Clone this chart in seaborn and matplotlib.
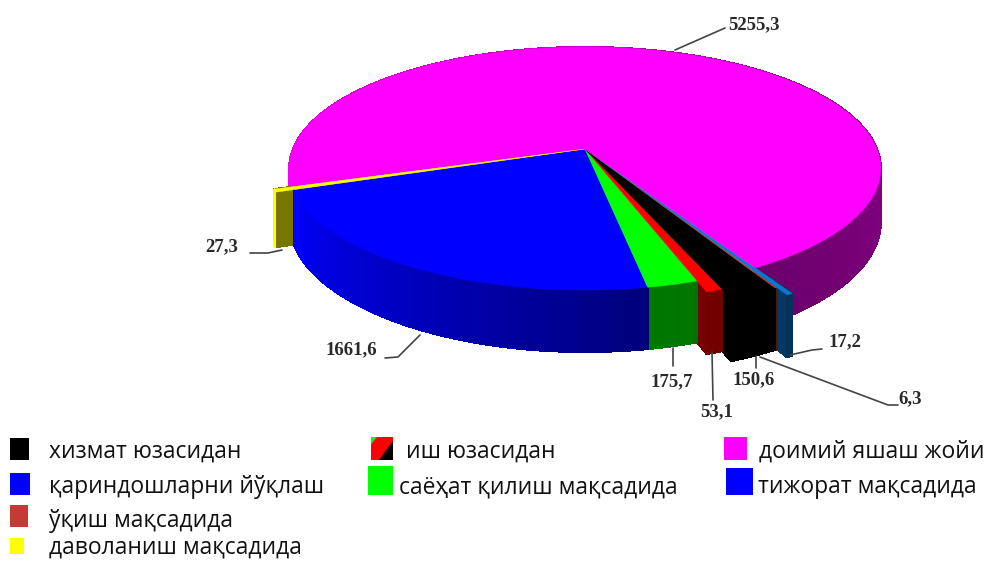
"""3D style pie chart of arrivals by purpose of visit, with perspective top face."""

import numpy as np
import matplotlib.pyplot as plt
import seaborn as sns
from matplotlib.patches import Polygon, Rectangle

# slices in counter-clockwise order, starting at the left edge of the big blue one
slice_values = [1661.6, 175.7, 53.1, 150.6, 6.3, 17.2, 5255.3, 27.3]
slice_labels = ["1661,6", "175,7", "53,1", "150,6", "6,3", "17,2", "5255,3", "27,3"]
slice_colors = ["#0000FF", "#00FF00", "#FF0000", "#000000",
                "#C0392B", "#0A78D2", "#FF00FF", "#FFFF00"]

legend_names = ["хизмат юзасидан", "иш юзасидан", "доимий яшаш жойи",
                "қариндошларни йўқлаш", "саёҳат қилиш мақсадида", "тижорат мақсадида",
                "ўқиш мақсадида", "даволаниш мақсадида"]
legend_colors = ["#000000", "#FF0000", "#FF00FF",
                 "#0000FF", "#00FF00", "#0000FF",
                 "#C43A35", "#FFFF00"]

# layout (pixels of the 989x562 picture)
slice_radius = [1.0, 1.0, 1.07, 1.13, 1.13, 1.18, 1.0, 1.06]
START_ANGLE = 199.0
APEX_X, APEX_Y = 585, 149
SCALE_X, SCALE_Y = 292, 118.4
PERSPECTIVE = 0.1605
THICKNESS = 52

label_pos = [(351, 350), (672, 382), (717, 412), (754, 380), (910, 399), (845, 342), (754, 25), (222, 247)]
leader_xs = [[385, 398, 420], [673, 673], [712, 713], [756, 756], [760, 888, 898], [790, 812, 822], [675, 725], [250, 268, 282]]
leader_ys = [[358, 357, 335], [348, 366], [352, 400], [356, 368], [357, 405, 405], [355, 350, 349], [50, 28], [253, 253, 250]]

swatches = [(10, 438, 19, 22), (371, 437, 22, 23), (724, 437, 23, 23),
            (10, 473, 20, 22), (368, 466, 25, 29), (726, 468, 27, 27),
            (10, 505, 18, 22), (10, 538, 14, 16)]
legend_text_pos = [(49, 452), (406, 452), (759, 452),
                   (49, 487), (399, 487), (758, 487),
                   (49, 521), (49, 548)]


def project(theta, r=1.0, drop=0.0):
    """Map a point of the unit disc (degrees, radius) to picture pixels."""
    t = np.radians(theta)
    px, py = r * np.cos(t), r * np.sin(t)
    w = 1 + PERSPECTIVE * py
    return APEX_X + SCALE_X * px / w, APEX_Y - SCALE_Y * py / w + drop * THICKNESS / w


def shade(color, theta):
    """Darken the side of the pie depending on where it faces."""
    f = np.interp(theta % 360, [0, 180, 199, 280, 300, 360], [0.52, 0.9, 1.0, 0.48, 0.42, 0.52])
    return tuple(np.array(plt.matplotlib.colors.to_rgb(color)) * f)


def main():
    sns.set_theme(style="white")
    plt.rcParams["font.family"] = ["Open Sans", "DejaVu Sans"]

    fig = plt.figure(figsize=(9.89, 5.62), dpi=100)
    ax = fig.add_axes([0, 0, 1, 1])
    ax.set_xlim(0, 989)
    ax.set_ylim(562, 0)
    ax.axis("off")

    spans = np.array(slice_values) / np.sum(slice_values) * 360
    starts = START_ANGLE + np.concatenate([[0], np.cumsum(spans)[:-1]])
    n = len(spans)

    # side faces: collect first, then paint from back to front
    faces = []
    for i in range(n):
        a0, a1, r, col = starts[i], starts[i] + spans[i], slice_radius[i], slice_colors[i]
        steps = max(2, int(spans[i]) + 2)
        grid = np.linspace(a0, a1, steps)
        for g0, g1 in zip(grid[:-1], grid[1:]):
            x0, y0 = project(g0, r)
            x1, y1 = project(g1, r)
            x2, y2 = project(g1, r, 1)
            x3, y3 = project(g0, r, 1)
            depth = r * np.sin(np.radians((g0 + g1) / 2))
            faces.append((depth, [(x0, y0), (x1, y1), (x2, y2), (x3, y3)], shade(col, (g0 + g1) / 2)))
        # radial walls where a slice sticks out past its neighbour
        for angle, other in ((a0, slice_radius[i - 1]), (a1, slice_radius[(i + 1) % n])):
            if other < r:
                x0, y0 = project(angle, other)
                x1, y1 = project(angle, r)
                x2, y2 = project(angle, r, 1)
                x3, y3 = project(angle, other, 1)
                depth = other * np.sin(np.radians(angle)) + 0.02
                faces.append((depth, [(x0, y0), (x1, y1), (x2, y2), (x3, y3)], shade(col, 285)))

    # no antialiasing here, it leaves seams between the strips
    for depth, pts, col in sorted(faces, key=lambda f: -f[0]):
        ax.add_patch(Polygon(pts, closed=True, facecolor=col, edgecolor=col, lw=0.8, antialiased=False))

    # top faces
    for i in range(n):
        grid = np.linspace(starts[i], starts[i] + spans[i], max(3, int(spans[i] * 2)))
        xs, ys = project(grid, slice_radius[i])
        pts = [(APEX_X, APEX_Y)] + list(zip(xs, ys))
        ax.add_patch(Polygon(pts, closed=True, facecolor=slice_colors[i],
                             edgecolor=slice_colors[i], lw=0.3))

    # value labels with leader lines
    for lab, pos, lx, ly in zip(slice_labels, label_pos, leader_xs, leader_ys):
        ax.plot(lx, ly, color="#444444", lw=1.2, solid_capstyle="round")
        ax.text(pos[0], pos[1], lab, ha="center", va="center", fontsize=13.5,
                fontweight="bold", family="Liberation Serif", color="#2a2a2a")

    # hand placed legend, the original one is not on a regular grid
    for name, col, sw, pos in zip(legend_names, legend_colors, swatches, legend_text_pos):
        ax.add_patch(Rectangle((sw[0], sw[1]), sw[2], sw[3], facecolor=col, edgecolor="none"))
        ax.text(pos[0], pos[1], name, ha="left", va="center", fontsize=16.5, color="#111111")

    # the "иш" swatch has a green and a black corner
    sx, sy, sw, sh = swatches[1]
    ax.add_patch(Polygon([(sx, sy), (sx + 6, sy), (sx, sy + 7)], facecolor="#00FF00", edgecolor="none"))
    ax.add_patch(Polygon([(sx + sw, sy + 4), (sx + sw, sy + sh), (sx + 8, sy + sh)], facecolor="#000000", edgecolor="none"))

    fig.savefig("out.png", dpi=100)


if __name__ == "__main__":
    main()
